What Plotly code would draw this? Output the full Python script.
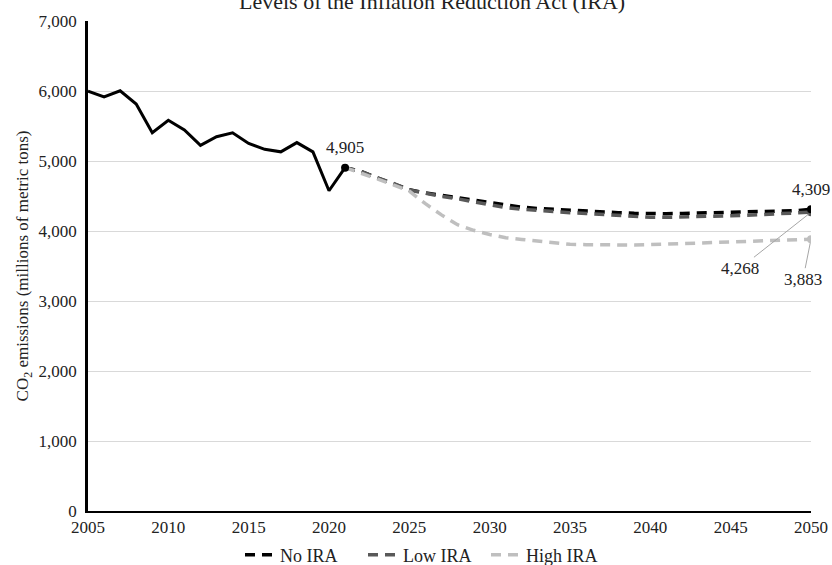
import plotly.graph_objects as go

# ---- data ----
hist_years = list(range(2005, 2022))
hist_values = [5999, 5914, 6003, 5814, 5404, 5582, 5444, 5223, 5347, 5403,
               5250, 5167, 5131, 5263, 5130, 4575, 4905]

proj_years = list(range(2021, 2051))
no_ira = [4905, 4850, 4760, 4680, 4590, 4545, 4510, 4480, 4440, 4400,
          4365, 4340, 4322, 4308, 4295, 4285, 4274, 4262, 4252, 4245,
          4247, 4251, 4255, 4259, 4263, 4267, 4272, 4279, 4290, 4309]
low_ira = [4905, 4850, 4760, 4680, 4585, 4535, 4495, 4460, 4420, 4375,
           4335, 4310, 4290, 4275, 4262, 4250, 4235, 4220, 4205, 4195,
           4195, 4198, 4203, 4210, 4218, 4226, 4234, 4243, 4254, 4268]
high_ira = [4905, 4830, 4745, 4660, 4570, 4390, 4230, 4090, 4010, 3950,
            3905, 3880, 3860, 3830, 3810, 3805, 3800, 3800, 3800, 3805,
            3812, 3820, 3830, 3840, 3848, 3854, 3860, 3865, 3872, 3883]

series_names = ["No IRA", "Low IRA", "High IRA"]
series_values = [no_ira, low_ira, high_ira]
series_colors = ["#000000", "#595959", "#bfbfbf"]

title_text = "Levels of the Inflation Reduction Act (IRA)"
y_title = "CO<sub>2</sub> emissions (millions of metric tons)"
x_ticks = list(range(2005, 2051, 5))
y_ticks = list(range(0, 7001, 1000))

FONT = "Liberation Serif"
TXT = "#222222"

fig = go.Figure()

# projections
for name, vals, col in zip(series_names, series_values, series_colors):
    fig.add_trace(go.Scatter(
        x=proj_years, y=vals, mode="lines", name=name,
        line=dict(color=col, width=3.5, dash="10px,7px"),
        hoverinfo="skip"))

# historical
fig.add_trace(go.Scatter(
    x=hist_years, y=hist_values, mode="lines", showlegend=False,
    line=dict(color="#000000", width=3), hoverinfo="skip"))

# end markers
fig.add_trace(go.Scatter(
    x=[hist_years[-1]], y=[hist_values[-1]], mode="markers", showlegend=False,
    marker=dict(color="#000000", size=8), hoverinfo="skip"))
for vals, col in zip(series_values[::-1], series_colors[::-1]):
    fig.add_trace(go.Scatter(
        x=[proj_years[-1]], y=[vals[-1]], mode="markers", showlegend=False,
        marker=dict(color=col, size=8), hoverinfo="skip"))

ann_font = dict(family=FONT, size=17, color=TXT)
fig.add_annotation(x=hist_years[-1], y=hist_values[-1], text=f"{hist_values[-1]:,}",
                   showarrow=False, yshift=20, font=ann_font)
fig.add_annotation(x=proj_years[-1], y=no_ira[-1], text=f"{no_ira[-1]:,}",
                   showarrow=False, yshift=20, font=ann_font)
fig.add_annotation(x=proj_years[-1], y=low_ira[-1], text=f"{low_ira[-1]:,}",
                   showarrow=True, arrowhead=0, arrowwidth=1, arrowcolor="#a6a6a6",
                   ax=-71, ay=56, standoff=3, font=ann_font)
fig.add_annotation(x=proj_years[-1], y=high_ira[-1], text=f"{high_ira[-1]:,}",
                   showarrow=True, arrowhead=0, arrowwidth=1, arrowcolor="#a6a6a6",
                   ax=-8, ay=40, standoff=4, font=ann_font)

# title (top partly cut off, as in the reference)
fig.add_annotation(xref="paper", yref="paper", x=(432 - 88) / 723, y=1 + 5 / 490,
                   text=title_text, showarrow=False, xanchor="center", yanchor="bottom",
                   font=dict(family=FONT, size=22, color=TXT))

fig.update_layout(
    width=832, height=565,
    margin=dict(l=88, r=21, t=21, b=54, autoexpand=False),
    paper_bgcolor="white", plot_bgcolor="white",
    font=dict(family=FONT, size=17, color=TXT),
    showlegend=True,
    legend=dict(orientation="h", x=(240 - 88) / 723, xanchor="left",
                y=(511 - 555) / 490, yanchor="middle",
                font=dict(family=FONT, size=18, color=TXT),
                itemwidth=30, tracegroupgap=0, entrywidth=78, entrywidthmode="pixels"),
    xaxis=dict(range=[2005, 2050], tickvals=x_ticks, ticktext=[str(t) for t in x_ticks],
               showgrid=False, zeroline=False, showline=True, linecolor="#000000",
               linewidth=2, ticks="", automargin=False,
               tickfont=dict(family=FONT, size=17, color=TXT)),
    yaxis=dict(range=[0, 7000], tickvals=y_ticks, ticktext=[f"{t:,}" for t in y_ticks],
               showgrid=True, gridcolor="#d9d9d9", gridwidth=1, zeroline=False,
               showline=True, linecolor="#000000", linewidth=2.5, ticks="", automargin=False,
               ticklabelstandoff=5,
               title=dict(text=y_title, font=dict(family=FONT, size=17, color=TXT), standoff=6),
               tickfont=dict(family=FONT, size=17, color=TXT)),
)

fig.write_html("out.html", config={"displayModeBar": False},
               post_script="document.body.style.margin='0';document.body.style.padding='0';")
